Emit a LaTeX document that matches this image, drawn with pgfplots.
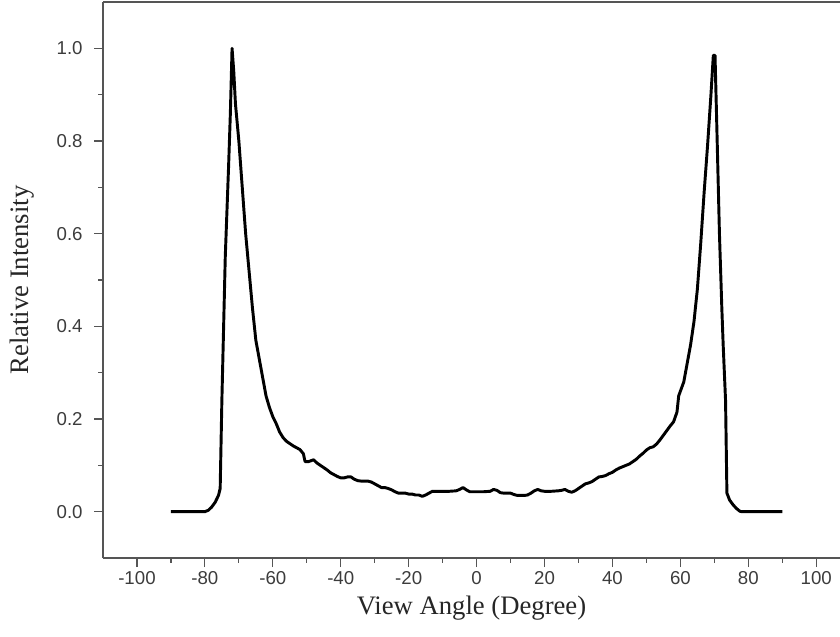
\documentclass[border=0pt]{standalone}
\usepackage{pgfplots}
\pgfplotsset{compat=1.18}
\usepackage{fontspec}
\setmainfont{Liberation Serif}
\newfontfamily\tickfont{Liberation Sans}
\definecolor{axcol}{RGB}{85,85,85}
\definecolor{tickcol}{RGB}{60,60,60}
\begin{document}
\begin{tikzpicture}
\begin{axis}[
  scale only axis,
  width=552.75pt, height=417pt,
  xmin=-110, xmax=107, ymin=-0.1, ymax=1.1,
  axis lines*=left,
  axis line style={-, axcol, line width=1pt},
  xtick={-100,-80,...,100},
  ytick={0,0.2,...,1.0},
  minor x tick num=1, minor y tick num=1,
  tick align=outside,
  major tick length=6.75pt, minor tick length=3.5pt,
  every tick/.style={axcol, line width=0.9pt},
  yticklabel={\pgfmathprintnumber[fixed,fixed zerofill,precision=1]{\tick}},
  /pgf/number format/assume math mode=true,
  tick label style={font=\tickfont\fontsize{14}{16}\selectfont, text=tickcol},
  yticklabel style={xshift=-5pt},
  xticklabel style={yshift=-2pt, inner sep=1pt},
  xlabel={View Angle (Degree)},
  ylabel={Relative Intensity},
  label style={font=\fontsize{20}{22}\selectfont, text=black!85},
  xlabel style={at={(rel axis cs:0.5,0)}, anchor=center, yshift=-37.5pt, inner sep=0pt},
  ylabel style={at={([xshift=-60.75pt]rel axis cs:0,0.5)}, anchor=center},
]
\addplot[black, line width=2.2pt, line join=round] coordinates {
(-90,0) (-85,0) (-80,0) (-79,0.003) (-78,0.01) (-77,0.02) (-76,0.035) (-75.5,0.05)
(-75,0.24) (-74,0.55) (-73,0.75) (-72.5,0.86) (-72,1.0) (-71.5,0.95) (-71,0.88)
(-70,0.80) (-69,0.70) (-68,0.60) (-67,0.52) (-66,0.44) (-65,0.37) (-64,0.33)
(-63,0.29) (-62,0.25) (-61,0.225) (-60,0.205) (-59,0.19) (-58,0.172) (-57,0.16)
(-56,0.152) (-55,0.147) (-54,0.142) (-53,0.138) (-52,0.134) (-51,0.125)
(-50.5,0.108) (-49.5,0.108) (-48,0.112) (-47,0.105) (-46,0.1) (-45,0.095)
(-44,0.09) (-43,0.084) (-42,0.08) (-41,0.076) (-40,0.073) (-39,0.073) (-38,0.075)
(-37,0.075) (-36,0.07) (-35,0.067) (-34,0.066) (-33,0.066) (-32,0.066) (-31,0.064)
(-30,0.06) (-29,0.056) (-28,0.052) (-27,0.052) (-26,0.05) (-25,0.047) (-24,0.043)
(-23,0.04) (-22,0.04) (-21,0.04) (-20,0.038) (-19,0.038) (-18,0.036) (-17,0.036)
(-16,0.033) (-15,0.036) (-14,0.04) (-13,0.044) (-12,0.044) (-10,0.044) (-8,0.044)
(-6,0.045) (-5,0.048) (-4,0.052) (-3,0.047) (-2,0.043) (0,0.043) (2,0.043)
(4,0.044) (5,0.048) (6,0.046) (7,0.041) (8,0.04) (10,0.04) (11,0.037) (12,0.035)
(14,0.035) (15,0.036) (16,0.04) (17,0.045) (18,0.048) (19,0.045) (20,0.044)
(22,0.044) (24,0.045) (25,0.046) (26,0.048) (27,0.044) (28,0.042) (29,0.045)
(30,0.05) (31,0.055) (32,0.06) (33,0.062) (34,0.065) (35,0.07) (36,0.075)
(37,0.076) (38,0.078) (39,0.082) (40,0.085) (41,0.09) (42,0.094) (43,0.097)
(44,0.10) (45,0.103) (46,0.108) (47,0.113) (48,0.12) (49,0.126) (50,0.133)
(51,0.138) (52,0.14) (53,0.146) (54,0.155) (55,0.165) (56,0.175) (57,0.185)
(58,0.194) (59,0.215) (59.5,0.25) (61,0.28) (62,0.32) (63,0.36) (64,0.41)
(65,0.48) (66,0.58) (67,0.69) (68,0.79) (69,0.90) (69.7,0.985) (70.2,0.985)
(70.7,0.84) (71.5,0.6) (72.2,0.44) (72.6,0.36) (73.3,0.24) (73.7,0.04)
(74.5,0.025) (75.5,0.015) (76.5,0.007) (77.5,0.001) (78,0) (85,0) (90,0)
};
\draw[axcol, line width=1pt] (rel axis cs:0,1) -- (rel axis cs:1,1);
\coordinate (O) at (rel axis cs:0,0);
\coordinate (T) at (rel axis cs:1,1);
\end{axis}
\pgfresetboundingbox
\path (O) ++(-77.25pt,-58.5pt) coordinate (BL);
\path (T) ++(0pt,1.5pt) coordinate (TR);
\path[use as bounding box] (BL) rectangle (TR);
\end{tikzpicture}
\end{document}
